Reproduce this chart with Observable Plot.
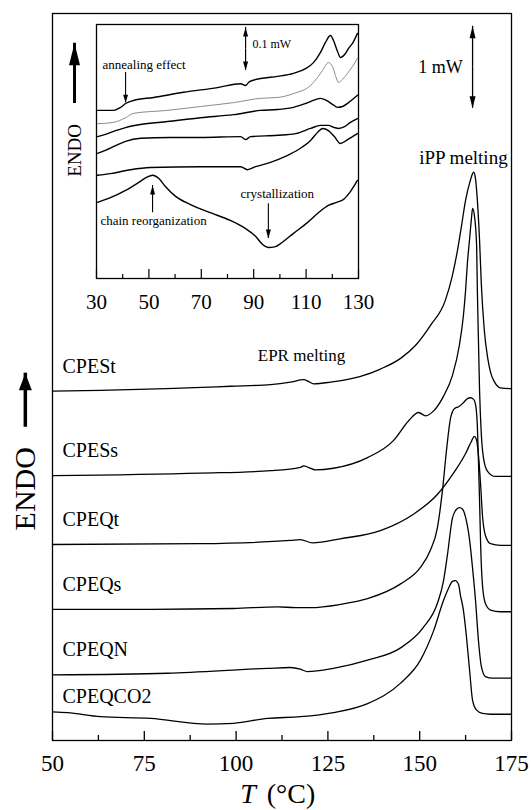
<!DOCTYPE html>
<html>
<head>
<meta charset="utf-8">
<script src="https://cdn.jsdelivr.net/npm/d3@7"></script>
<script src="https://cdn.jsdelivr.net/npm/@observablehq/plot@0.6"></script>
<style>
  body { margin: 0; background: white; }
  #wrap { position: relative; width: 531px; height: 810px; }
  #wrap svg { position: absolute; left: 0; top: 0; }
</style>
</head>
<body>
<div id="wrap"></div>
<script>
// ---------- main chart data: temperature (°C), heat flow (mW, shifted) ----------
const CPESt = [[50,4.26],[63,4.27],[81,4.29],[98.5,4.32],[109.4,4.34],[114.8,4.37],[118.4,4.40],[119.7,4.38],[121.1,4.35],[125.7,4.37],[133.9,4.44],[139.3,4.53],[144.8,4.66],[148.9,4.82],[152.9,5.06],[157.0,5.37],[158.9,5.67],[160.3,5.98],[161.4,6.28],[162.5,6.59],[163.6,6.80],[164.7,6.93],[165.2,6.85],[165.7,6.59],[166.3,6.10],[166.8,5.55],[167.6,5.00],[168.5,4.67],[169.3,4.49],[170.4,4.37],[172.0,4.30],[175,4.29]];
const CPESs = [[50,3.23],[90.3,3.26],[109.4,3.29],[117.5,3.33],[118.4,3.35],[119.7,3.33],[121.6,3.30],[126.5,3.32],[135.8,3.45],[142.9,3.66],[147.0,3.90],[149.7,4.00],[151.6,3.96],[153.8,4.02],[156.5,4.20],[158.9,4.45],[160.8,4.82],[161.9,5.18],[162.5,5.49],[163.0,5.83],[163.6,6.12],[164.1,6.37],[164.4,6.49],[164.9,6.40],[165.5,6.04],[165.7,5.49],[166.0,4.88],[166.3,4.27],[166.8,3.72],[167.6,3.39],[168.7,3.27],[170.6,3.22],[175,3.22]];
const CPEQt = [[50,2.39],[90.3,2.40],[114.8,2.44],[117.5,2.45],[120.8,2.41],[128.4,2.46],[139.3,2.56],[148.3,2.76],[154.8,3.00],[159.2,3.26],[162.5,3.50],[164.1,3.65],[164.9,3.71],[165.5,3.66],[166.0,3.48],[166.6,3.11],[167.1,2.74],[167.9,2.50],[169.3,2.40],[172.0,2.38],[175,2.38]];
const CPEQs = [[50,1.60],[76.7,1.60],[99.3,1.61],[111.3,1.63],[116.2,1.62],[120.3,1.62],[128.4,1.66],[135.8,1.73],[144.8,1.91],[150.2,2.11],[152.9,2.32],[154.8,2.59],[156.2,3.05],[157.3,3.54],[158.4,3.93],[159.5,4.05],[160.6,4.07],[161.9,4.12],[163.0,4.17],[163.8,4.18],[164.7,4.16],[165.2,4.10],[165.7,3.84],[166.0,3.41],[166.3,2.93],[166.6,2.38],[167.1,1.89],[167.9,1.67],[169.3,1.59],[172.0,1.57],[175,1.57]];
const CPEQN = [[50,0.80],[81.3,0.82],[108.6,0.88],[114.8,0.89],[117.5,0.87],[119.4,0.84],[126.5,0.88],[135.8,0.98],[144.8,1.13],[151.0,1.38],[154.8,1.67],[156.5,1.95],[157.6,2.28],[158.9,2.71],[159.7,2.80],[160.8,2.84],[161.7,2.82],[162.5,2.72],[163.6,2.44],[164.4,2.10],[165.2,1.71],[166.0,1.22],[166.8,0.90],[167.9,0.78],[169.8,0.76],[175,0.76]];
const CPEQCO2 = [[50,0.35],[54.1,0.34],[63.1,0.29],[76.7,0.27],[92.2,0.20],[99.3,0.21],[108.6,0.27],[117.5,0.29],[126.5,0.34],[135.8,0.45],[144.8,0.70],[150.2,0.98],[153.8,1.34],[156.5,1.71],[157.8,1.85],[158.9,1.94],[159.7,1.95],[160.6,1.90],[161.1,1.77],[161.9,1.59],[162.7,1.28],[163.6,0.85],[164.4,0.49],[165.5,0.37],[167.1,0.33],[169.3,0.32],[175,0.32]];
const seriesNames = ["CPESt", "CPESs", "CPEQt", "CPEQs", "CPEQN", "CPEQCO2"];
const xTicks = [50, 75, 100, 125, 150, 175];
const xMinorTicks = [62.5, 87.5, 112.5, 137.5, 162.5];

// ---------- inset data (mW, shifted) ----------
const inset1 = [[30.4,.391],[36.5,.391],[39.2,.398],[41.1,.407],[44.1,.414],[51.8,.421],[63.2,.433],[76.2,.444],[85.0,.453],[86.9,.449],[88.4,.458],[92.6,.465],[99.1,.470],[105.2,.477],[109.8,.488],[112.8,.502],[115.5,.526],[117.4,.549],[119.3,.565],[120.5,.553],[122.0,.528],[123.1,.514],[124.7,.521],[126.2,.535],[128.1,.551],[129.6,.570]];
const inset2 = [[30.4,.360],[36.5,.363],[41.1,.374],[44.1,.384],[57.1,.391],[69.7,.400],[82.3,.409],[92.6,.419],[99.1,.421],[105.2,.430],[111.7,.449],[114.7,.470],[116.3,.484],[118.5,.502],[120.1,.493],[121.2,.472],[122.4,.456],[123.9,.463],[125.8,.477],[127.7,.493],[129.6,.512]];
const inset3 = [[30.4,.330],[33.4,.335],[37.3,.344],[41.1,.351],[46.8,.358],[57.1,.365],[69.7,.374],[82.3,.381],[92.6,.391],[99.1,.393],[105.2,.398],[109.8,.407],[113.6,.416],[115.5,.419],[117.8,.414],[120.1,.405],[122.0,.398],[123.9,.400],[126.2,.409],[129.6,.426]];
const inset4 = [[30.4,.291],[33.4,.298],[37.3,.309],[41.1,.319],[46.8,.326],[58.2,.328],[69.7,.328],[85.0,.330],[86.9,.323],[88.8,.330],[99.1,.333],[106.0,.337],[111.7,.349],[115.5,.356],[118.5,.356],[120.8,.351],[122.4,.349],[124.7,.353],[126.9,.363],[129.6,.372]];
const inset5 = [[30.4,.240],[35.3,.244],[43.0,.253],[50.6,.258],[69.7,.260],[85.0,.260],[87.6,.253],[90.7,.260],[96.4,.270],[102.1,.284],[107.1,.300],[111.7,.321],[114.7,.342],[116.3,.349],[118.5,.344],[120.8,.330],[123.1,.314],[125.4,.321],[127.7,.330],[129.6,.337]];
const inset6 = [[30.4,.177],[35.3,.188],[41.1,.205],[46.0,.223],[49.1,.235],[51.4,.240],[53.7,.233],[56.3,.214],[60.2,.191],[65.9,.172],[73.5,.153],[81.1,.135],[86.9,.116],[90.7,.098],[93.4,.079],[95.6,.072],[98.3,.074],[100.2,.081],[105.2,.105],[110.5,.130],[114.7,.153],[118.5,.170],[121.6,.177],[124.3,.184],[126.9,.202],[129.6,.228]];
const insetTicks = [30, 50, 70, 90, 110, 130];
const insetMinorTicks = [40, 60, 80, 100, 120];

// ---------- build tables ----------
const mainSeries = [CPESt, CPESs, CPEQt, CPEQs, CPEQN, CPEQCO2].map((pts, i) => ({name: seriesNames[i], pts}));
const mainRows = mainSeries.flatMap(s => s.pts.map(([T, v]) => ({name: s.name, T, v})));
const insetSeries = [inset1, inset2, inset3, inset4, inset5, inset6];
const insetRows = insetSeries.flatMap((pts, i) => pts.map(([T, v]) => ({k: i, T, v})));

const FONT = "'Liberation Serif', 'Times New Roman', serif";

// arrow head symbol (tip at origin)
function head(w, h, dir) {
  return {draw(ctx) {
    const s = dir === "up" ? 1 : -1;
    ctx.moveTo(0, 0);
    ctx.lineTo(-w / 2, s * h);
    ctx.lineTo(w / 2, s * h);
    ctx.closePath();
  }};
}
function arrowUp(x, y1, y2, w, h, sw) {
  return [
    Plot.ruleX([x], {x: d => d, y1, y2, strokeWidth: sw, stroke: "black"}),
    Plot.dot([x], {x: d => d, y: y2, symbol: head(w, h, "up"), fill: "black", stroke: "none", r: 3})
  ];
}
function arrowDown(x, y1, y2, w, h, sw) {
  return [
    Plot.ruleX([x], {x: d => d, y1, y2, strokeWidth: sw, stroke: "black"}),
    Plot.dot([x], {x: d => d, y: y2, symbol: head(w, h, "down"), fill: "black", stroke: "none", r: 3})
  ];
}

const mainH = 810 - 13 - 70;
const main = Plot.plot({
  width: 531, height: 810,
  marginLeft: 52, marginRight: 20, marginTop: 13, marginBottom: 70,
  x: {domain: [50, 175], ticks: xTicks, tickSize: 0, tickPadding: 14, label: null},
  y: {domain: [0, mainH / 82], axis: null},
  style: {fontFamily: FONT, fontSize: "23px", background: "white", color: "black", overflow: "visible"},
  marks: [
    Plot.frame({stroke: "black", strokeWidth: 1.3}),
    Plot.ruleX(xTicks, {x: d => d, insetTop: mainH - 9, stroke: "black", strokeWidth: 1.3}),
    Plot.ruleX(xMinorTicks, {x: d => d, insetTop: mainH - 5, stroke: "black", strokeWidth: 1.3}),
    Plot.line(mainRows, {x: "T", y: "v", z: "name", curve: "monotone-x", stroke: "black", strokeWidth: 1.3}),
    Plot.text(mainSeries.filter(s => s.name !== "CPEQCO2"), {x: d => d.pts[0][0], y: d => d.pts[0][1], text: "name", textAnchor: "start", dx: 10, dy: -25, fontSize: 20}),
    Plot.text(mainSeries.filter(s => s.name === "CPEQCO2"), {x: d => d.pts[0][0], y: d => d.pts[0][1], text: "name", textAnchor: "start", dx: 10, dy: -15, fontSize: 20}),
    Plot.text(["iPP melting"], {x: 161.9, y: 7.11, text: d => d, fontSize: 19}),
    Plot.text(["EPR melting"], {x: 117.8, y: 4.70, text: d => d, fontSize: 17}),
    Plot.text(["1 mW"], {x: 161.7, y: 8.21, text: d => d, textAnchor: "end", fontSize: 18}),
    ...arrowUp(164.4, 8.21, 8.71, 6, 12, 1.3),
    ...arrowDown(164.4, 8.21, 7.71, 6, 12, 1.3),
    Plot.text(["ENDO"], {x: 42.6, y: 3.07, text: d => d, rotate: -90, fontSize: 30}),
    ...arrowUp(42.6, 3.82, 4.48, 13, 17, 3.5),
    Plot.text(["T"], {frameAnchor: "bottom", text: d => d, dx: -34, dy: 62, fontSize: 28, fontStyle: "italic"}),
    Plot.text(["(°C)"], {frameAnchor: "bottom", text: d => d, dx: 9, dy: 62, fontSize: 28})
  ]
});

const insetH = 278 - 24;
const inset = Plot.plot({
  width: 531, height: 810,
  marginLeft: 96, marginRight: 173, marginTop: 24, marginBottom: 532,
  x: {domain: [30, 130], ticks: insetTicks, tickSize: 0, tickPadding: 16, label: null},
  y: {domain: [0, insetH / 430], axis: null},
  style: {fontFamily: FONT, fontSize: "21px", background: "transparent", color: "black", overflow: "visible", pointerEvents: "none"},
  marks: [
    Plot.frame({stroke: "black", strokeWidth: 1.3}),
    Plot.ruleX(insetTicks, {x: d => d, insetTop: insetH - 9, stroke: "black", strokeWidth: 1.2}),
    Plot.ruleX(insetMinorTicks, {x: d => d, insetTop: insetH - 4, stroke: "black", strokeWidth: 1.2}),
    Plot.line(insetRows.filter(d => d.k !== 1), {x: "T", y: "v", z: "k", curve: "monotone-x", stroke: "black", strokeWidth: 1.4}),
    Plot.line(insetRows.filter(d => d.k === 1), {x: "T", y: "v", curve: "monotone-x", stroke: "#8a8a8a", strokeWidth: 1}),
    Plot.text(["annealing effect"], {x: 32.3, y: .498, text: d => d, textAnchor: "start", fontSize: 13}),
    ...arrowDown(41.1, .479, .409, 5, 8, 1.1),
    Plot.text(["0.1 mW"], {x: 89.5, y: .544, text: d => d, textAnchor: "start", fontSize: 12}),
    ...arrowUp(86.9, .534, .584, 5, 9, 1.2),
    ...arrowDown(86.9, .534, .484, 5, 9, 1.2),
    Plot.text(["crystallization"], {x: 99, y: .198, text: d => d, fontSize: 13}),
    ...arrowDown(95.6, .174, .093, 5, 9, 1.1),
    Plot.text(["chain reorganization"], {x: 31.5, y: .133, text: d => d, textAnchor: "start", fontSize: 13}),
    ...arrowUp(51.4, .153, .216, 5, 9, 1.1),
    Plot.text(["ENDO"], {x: 21.6, y: .298, text: d => d, rotate: -90, fontSize: 19}),
    ...arrowUp(21.6, .407, .547, 11, 22, 3)
  ]
});

const wrap = document.getElementById("wrap");
wrap.appendChild(main);
wrap.appendChild(inset);
</script>
</body>
</html>
